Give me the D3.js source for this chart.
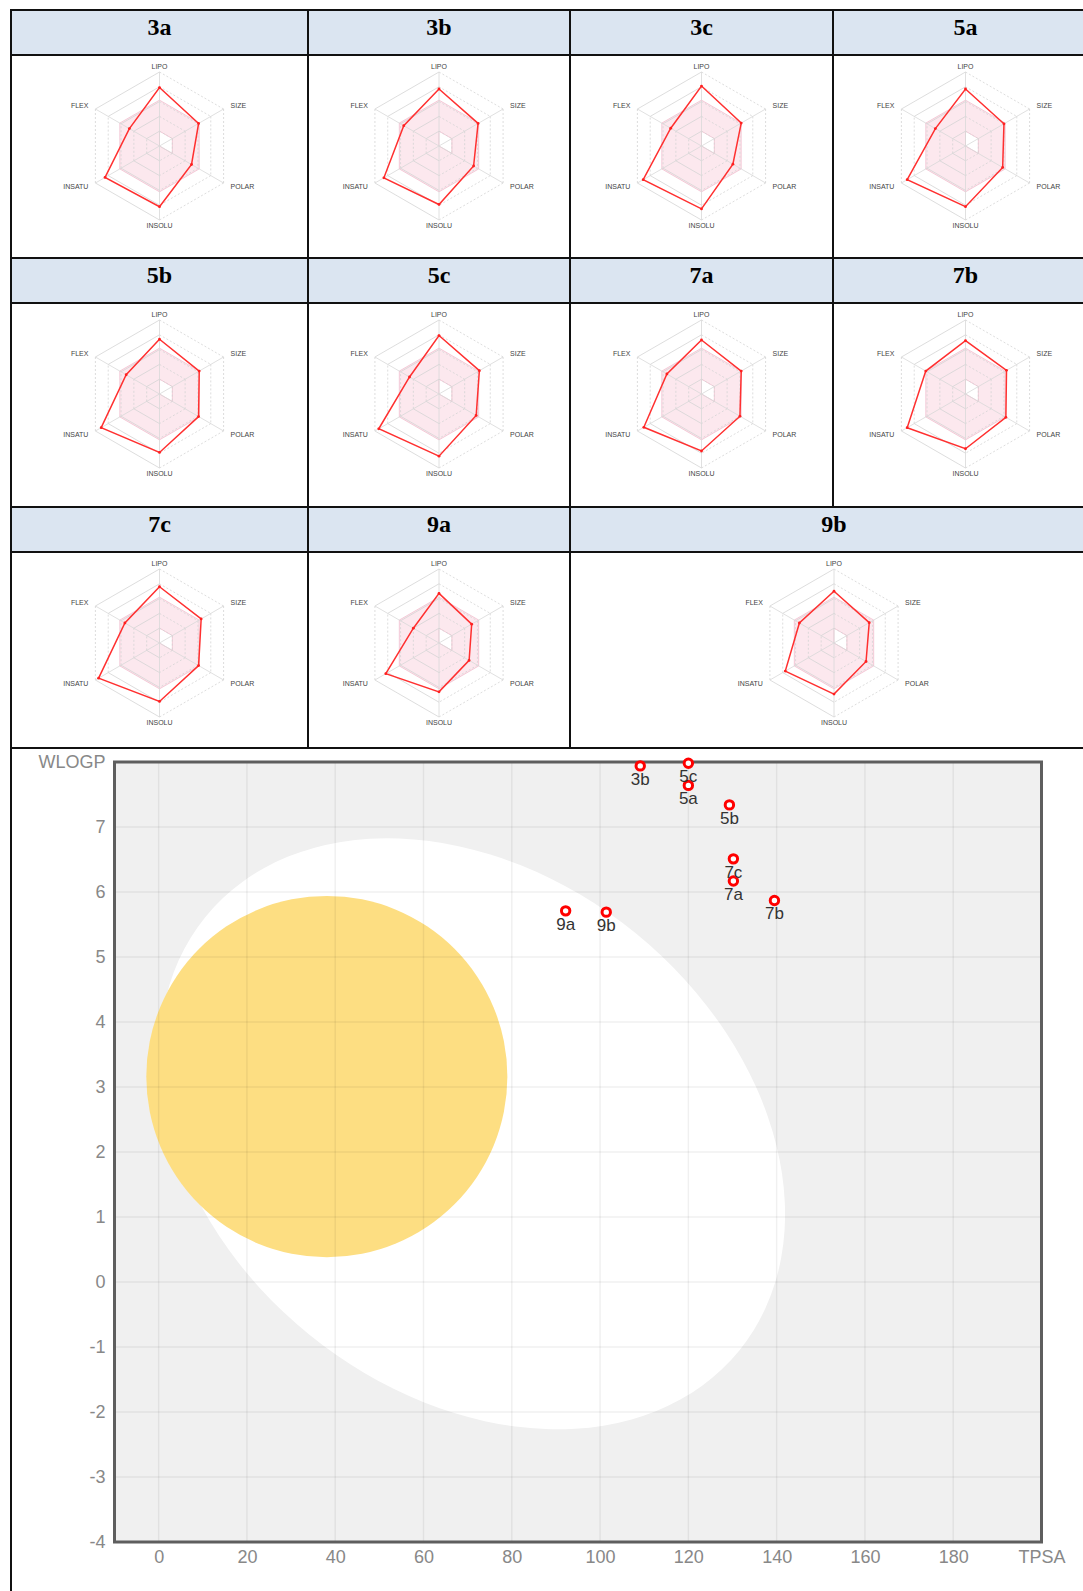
<!DOCTYPE html>
<html>
<head>
<meta charset="utf-8">
<script src="https://cdn.jsdelivr.net/npm/d3@7"></script>
<style>
  body { margin: 0; background: #fff; }
  svg { display: block; font-family: "Liberation Sans", Arial, sans-serif; }
</style>
</head>
<body>
<div id="chart"></div>
<script>

// compounds in the radar table, row by row
var compounds = ['3a', '3b', '3c', '5a', '5b', '5c', '7a', '7b', '7c', '9a', '9b'];
var radarAxes = ['LIPO', 'SIZE', 'POLAR', 'INSOLU', 'INSATU', 'FLEX'];

// normalised bioavailability radar values (same order as radarAxes)
var radar3a = [0.79, 0.61, 0.50, 0.82, 0.85, 0.47];
var radar3b = [0.77, 0.61, 0.54, 0.79, 0.86, 0.55];
var radar3c = [0.81, 0.62, 0.49, 0.85, 0.91, 0.48];
var radar5a = [0.77, 0.60, 0.58, 0.82, 0.91, 0.47];
var radar5b = [0.74, 0.62, 0.61, 0.79, 0.91, 0.52];
var radar5c = [0.79, 0.63, 0.58, 0.84, 0.94, 0.46];
var radar7a = [0.73, 0.62, 0.60, 0.77, 0.90, 0.54];
var radar7b = [0.72, 0.64, 0.63, 0.74, 0.91, 0.62];
var radar7c = [0.76, 0.65, 0.61, 0.79, 0.95, 0.54];
var radar9a = [0.67, 0.51, 0.47, 0.66, 0.83, 0.40];
var radar9b = [0.70, 0.55, 0.50, 0.69, 0.76, 0.54];
var radarValues = [radar3a, radar3b, radar3c, radar5a, radar5b, radar5c,
                   radar7a, radar7b, radar7c, radar9a, radar9b];

// pink optimal zone
var optimalLow = [0.2, 0.2, 0.2, 0, 0, 0];
var optimalHigh = [0.62, 0.62, 0.62, 0.62, 0.62, 0.62];
var ringLevels = [0.2, 0.4, 0.6, 0.8, 1];

// BOILED-Egg points
var eggLabels = ['3b', '5c', '5a', '5b', '7c', '7a', '7b', '9a', '9b'];
var eggTpsa = [109.1, 120.0, 120.0, 129.3, 130.2, 130.2, 139.5, 92.2, 101.4];
var eggWlogp = [7.94, 7.98, 7.64, 7.34, 6.51, 6.17, 5.87, 5.71, 5.69];

var tpsaTicks = [0, 20, 40, 60, 80, 100, 120, 140, 160, 180, 200];
var wlogpTicks = [-4, -3, -2, -1, 0, 1, 2, 3, 4, 5, 6, 7, 8];

// white (HIA) and yolk (BBB) regions
var hiaEllipse = {tpsa: 71.05, wlogp: 2.28, rx: 77.9, ry: 3.98, angle: 39.1};
var bbbEllipse = {tpsa: 38.1, wlogp: 3.16, rx: 40.9, ry: 2.78, angle: 0};


var width = 1083, height = 1591;
var svg = d3.select('#chart').append('svg')
  .attr('width', width)
  .attr('height', height);

// ---- table ----
var colX = [11, 308, 570, 833, 1098];
var rowY = [10, 258, 507];
var eggTop = 748;
var headH = 45;

var radarR = 74;
var rScale = d3.scaleLinear().domain([0, 1]).range([0, radarR]);

function radarPoint(v, i) {
  var a = -Math.PI / 2 + i * Math.PI / 3;
  return [Math.cos(a) * rScale(v), Math.sin(a) * rScale(v)];
}

function drawRadar(g, values) {
  var line = d3.line();

  g.append('path')
    .attr('d', line(optimalHigh.map(radarPoint)) + 'Z' + line(optimalLow.map(radarPoint)) + 'Z')
    .attr('fill-rule', 'evenodd')
    .attr('fill', 'rgba(240, 140, 170, 0.2)')
    .attr('stroke', 'rgba(225, 130, 160, 0.35)')
    .attr('stroke-width', 1);

  ringLevels.forEach(function(lv) {
    radarAxes.forEach(function(ax, k) {
      var p = radarPoint(lv, k), q = radarPoint(lv, (k + 1) % 6);
      g.append('line')
        .attr('x1', p[0]).attr('y1', p[1])
        .attr('x2', q[0]).attr('y2', q[1])
        .attr('stroke', '#d4d4d4')
        .attr('stroke-width', 0.8)
        .attr('stroke-dasharray', (k === 3 || k === 5) ? null : '2,2');
    });
  });

  radarAxes.forEach(function(ax, k) {
    var p = radarPoint(1, k);
    g.append('line')
      .attr('x1', 0).attr('y1', 0)
      .attr('x2', p[0]).attr('y2', p[1])
      .attr('stroke', '#d8d8d8')
      .attr('stroke-width', 0.8);

    var side = Math.round(p[0]);
    g.append('text')
      .attr('x', side === 0 ? 0 : (side > 0 ? 1 : -1) * (Math.abs(p[0]) + 7))
      .attr('y', side === 0 ? p[1] * 1.07 : p[1] + (p[1] > 0 ? 4 : -3))
      .attr('dy', '0.35em')
      .attr('text-anchor', side === 0 ? 'middle' : (side > 0 ? 'start' : 'end'))
      .attr('font-size', '7px')
      .attr('fill', '#444')
      .text(ax);
  });

  g.append('path')
    .datum(values)
    .attr('d', d3.line()
      .x(function(d, i) { return radarPoint(d, i)[0]; })
      .y(function(d, i) { return radarPoint(d, i)[1]; })
      .curve(d3.curveLinearClosed))
    .attr('fill', 'none')
    .attr('stroke', '#ff3030')
    .attr('stroke-width', 1.5);

  g.selectAll('circle.pt')
    .data(values)
    .enter().append('circle')
    .attr('class', 'pt')
    .attr('cx', function(d, i) { return radarPoint(d, i)[0]; })
    .attr('cy', function(d, i) { return radarPoint(d, i)[1]; })
    .attr('r', 1.4)
    .attr('fill', '#ff2020');
}

compounds.forEach(function(name, i) {
  var row = Math.floor(i / 4), col = i % 4;
  var x0 = colX[col];
  var x1 = (i === compounds.length - 1) ? colX[4] : colX[col + 1];
  var top = rowY[row];

  svg.append('rect')
    .attr('x', x0).attr('y', top)
    .attr('width', x1 - x0).attr('height', headH)
    .attr('fill', '#dbe5f1');

  svg.append('text')
    .attr('x', (x0 + x1) / 2)
    .attr('y', top + 25)
    .attr('text-anchor', 'middle')
    .attr('font-family', '"Liberation Serif", "Times New Roman", serif')
    .attr('font-weight', 'bold')
    .attr('font-size', '24px')
    .text(name);

  drawRadar(svg.append('g')
    .attr('transform', 'translate(' + ((x0 + x1) / 2) + ',' + (top + headH + 91) + ')'),
    radarValues[i]);
});

// ---- BOILED-Egg ----
var egg = {left: 114.5, right: 1041.5, top: 762, bottom: 1542};
var x = d3.scaleLinear().domain([-10, 200]).range([egg.left, egg.right]);
var y = d3.scaleLinear().domain([-4, 8]).range([egg.bottom, egg.top]);

svg.append('clipPath').attr('id', 'plot-clip')
  .append('rect')
  .attr('x', egg.left).attr('y', egg.top)
  .attr('width', egg.right - egg.left).attr('height', egg.bottom - egg.top);

var plot = svg.append('g').attr('clip-path', 'url(#plot-clip)');

plot.append('rect')
  .attr('x', egg.left).attr('y', egg.top)
  .attr('width', egg.right - egg.left).attr('height', egg.bottom - egg.top)
  .attr('fill', '#f0f0f0');

function drawEllipse(e, color) {
  var cx = x(e.tpsa), cy = y(e.wlogp);
  plot.append('ellipse')
    .attr('cx', cx).attr('cy', cy)
    .attr('rx', x(e.tpsa + e.rx) - cx)
    .attr('ry', y(e.wlogp - e.ry) - cy)
    .attr('transform', 'rotate(' + e.angle + ',' + cx + ',' + cy + ')')
    .attr('fill', color);
}
drawEllipse(hiaEllipse, '#ffffff');
drawEllipse(bbbEllipse, '#fdde82');

plot.selectAll('line.vgrid')
  .data(tpsaTicks.slice(0, -1))
  .enter().append('line')
  .attr('class', 'vgrid')
  .attr('x1', function(d) { return x(d); }).attr('x2', function(d) { return x(d); })
  .attr('y1', egg.top).attr('y2', egg.bottom)
  .attr('stroke', 'rgba(0,0,0,0.06)')
  .attr('stroke-width', 1.5);

plot.selectAll('line.hgrid')
  .data(wlogpTicks.slice(1, -1))
  .enter().append('line')
  .attr('class', 'hgrid')
  .attr('y1', function(d) { return y(d); }).attr('y2', function(d) { return y(d); })
  .attr('x1', egg.left).attr('x2', egg.right)
  .attr('stroke', 'rgba(0,0,0,0.06)')
  .attr('stroke-width', 1.5);

svg.append('rect')
  .attr('x', egg.left).attr('y', egg.top)
  .attr('width', egg.right - egg.left).attr('height', egg.bottom - egg.top)
  .attr('fill', 'none')
  .attr('stroke', '#5e5e5e')
  .attr('stroke-width', 3);

var xAxisCall = d3.axisBottom(x)
  .tickValues(tpsaTicks)
  .tickSize(0)
  .tickPadding(8)
  .tickFormat(function(d) { return d === 200 ? 'TPSA' : d; });
var yAxisCall = d3.axisLeft(y)
  .tickValues(wlogpTicks)
  .tickSize(0)
  .tickPadding(9)
  .tickFormat(function(d) { return d === 8 ? 'WLOGP' : d; });

var xAxis = svg.append('g')
  .attr('transform', 'translate(0,' + egg.bottom + ')')
  .call(xAxisCall);
var yAxis = svg.append('g')
  .attr('transform', 'translate(' + egg.left + ',0)')
  .call(yAxisCall);

[xAxis, yAxis].forEach(function(a) {
  a.select('.domain').remove();
  a.attr('font-family', null).attr('font-size', null);
  a.selectAll('text')
    .attr('font-size', '18px')
    .attr('fill', '#888');
});

svg.selectAll('circle.egg-pt')
  .data(eggTpsa)
  .enter().append('circle')
  .attr('class', 'egg-pt')
  .attr('cx', function(d) { return x(d); })
  .attr('cy', function(d, i) { return y(eggWlogp[i]); })
  .attr('r', 4.2)
  .attr('fill', '#fff')
  .attr('stroke', '#ff0000')
  .attr('stroke-width', 3);

svg.selectAll('text.egg-label')
  .data(eggLabels)
  .enter().append('text')
  .attr('class', 'egg-label')
  .attr('x', function(d, i) { return x(eggTpsa[i]); })
  .attr('y', function(d, i) { return y(eggWlogp[i]) + 19; })
  .attr('text-anchor', 'middle')
  .attr('font-size', '17px')
  .attr('fill', '#333')
  .text(function(d) { return d; });

// ---- table rules ----
var rule = function(x1, y1, x2, y2) {
  svg.append('line')
    .attr('x1', x1).attr('y1', y1).attr('x2', x2).attr('y2', y2)
    .attr('stroke', '#111')
    .attr('stroke-width', 2);
};
[10, 10 + headH, 258, 258 + headH, 507, 507 + headH, eggTop].forEach(function(yy) {
  rule(colX[0] - 1, yy, colX[4], yy);
});
rule(colX[0], 10, colX[0], height);
rule(colX[4], 10, colX[4], height);
rule(colX[1], 10, colX[1], eggTop);
rule(colX[2], 10, colX[2], eggTop);
rule(colX[3], 10, colX[3], 507);

</script>
</body>
</html>
